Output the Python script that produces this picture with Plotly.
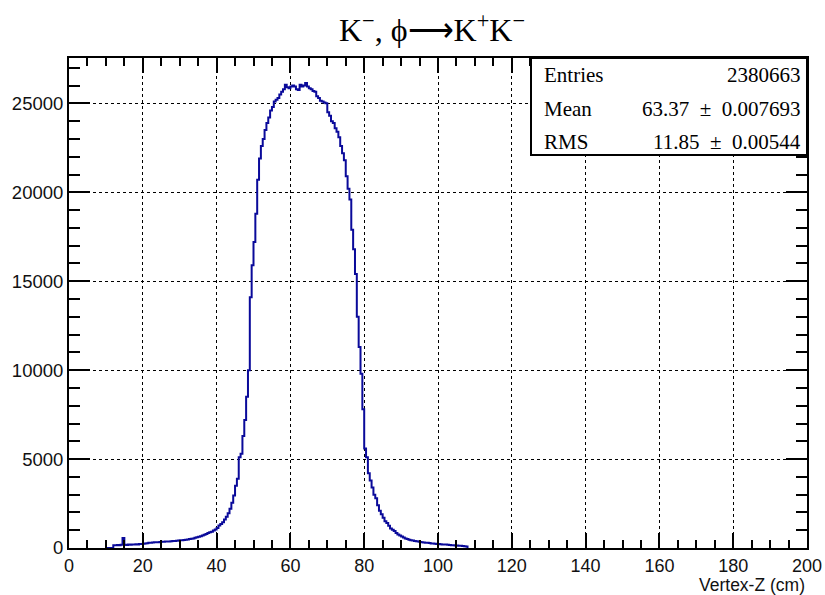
import plotly.graph_objects as go

# ---- data (histogram, 0.5 cm bins starting at 10 cm) ----
bin_start = 10.0
bin_width = 0.5
counts = [
    0, 0, 0, 0,
    150, 160, 170, 160, 180, 560, 180, 170, 190, 180, 200, 190, 210, 200, 220, 230,
    240, 250, 270, 290, 300, 310, 320, 320, 330, 340, 350, 350, 360, 370, 370, 380, 390, 400, 410, 420,
    430, 440, 450, 460, 480, 500, 520, 540, 570, 600, 630, 660, 700, 740, 790, 840, 880, 920, 980, 1040,
    1120, 1260, 1350, 1450, 1600, 1750, 1950, 2200, 2550, 2950, 3500, 3900, 5100, 5300, 6300, 7200, 8500, 10000, 14100, 15900,
    17200, 18800, 20700, 21900, 22600, 23000, 23500, 23900, 24200, 24600, 24800, 25100, 25200, 25300, 25500, 25650, 25800, 26050, 25900, 25850,
    25950, 26000, 25950, 25800, 25750, 26050, 25950, 26000, 26150, 25950, 25850, 25800, 25700, 25650, 25400, 25300, 25150, 25100, 25050, 25000,
    24500, 24300, 24000, 23900, 23600, 23400, 23100, 22600, 22200, 21800, 20900, 20200, 19600, 17900, 16800, 15400, 13000, 11300, 9800, 7800,
    5600, 5100, 4200, 3800, 3400, 3000, 2800, 2400, 2100, 1900, 1700, 1500, 1400, 1250, 1100, 1020, 950, 850, 760, 700,
    640, 590, 540, 500, 470, 440, 420, 400, 380, 360, 340, 330, 310, 300, 290, 280, 260, 250, 240, 230,
    220, 210, 200, 200, 190, 180, 170, 160, 150, 140, 140, 130, 120, 110, 100, 90,
]
x_tickvals = [0, 20, 40, 60, 80, 100, 120, 140, 160, 180, 200]
y_tickvals = [0, 5000, 10000, 15000, 20000, 25000]
y_ticktext = ["0", "5000", "10000", "15000", "20000", "25000"]
stats_labels = ["Entries", "Mean", "RMS"]
stats_values = ["2380663", "63.37\u2002±\u20020.007693", "11.85\u2002±\u20020.00544"]
title_text = "K<sup>−</sup>, ϕ⟶K<sup>+</sup>K<sup>−</sup>"
x_title = "Vertex-Z (cm)"

# ---- build step line ----
edges = [bin_start + i * bin_width for i in range(len(counts))]
end = bin_start + len(counts) * bin_width
xs = [bin_start] + edges + [end, end]
ys = [0] + counts + [counts[-1], 0]

line_color = "#0a0a9a"
fig = go.Figure()
fig.add_trace(go.Scatter(x=xs, y=ys, mode="lines", line=dict(color=line_color, width=2, shape="hv"),
                         hoverinfo="skip", showlegend=False))

y_font = dict(family="Liberation Sans, Arial, sans-serif", size=18.5, color="#111")
x_font = dict(family="Liberation Sans, Arial, sans-serif", size=18, color="#111")
axis_common = dict(
    showline=True, linewidth=2, linecolor="black", mirror="allticks",
    ticks="inside", tickcolor="black", tickwidth=2,
    showgrid=True, gridcolor="black", gridwidth=1, griddash="dot",
    zeroline=False, automargin=False,
)

fig.update_xaxes(**axis_common, tickfont=x_font, range=[0, 200], tickvals=x_tickvals, ticklen=15,
                 minor=dict(dtick=5, ticklen=8, tickwidth=2, tickcolor="black", ticks="inside", showgrid=False))
fig.update_yaxes(**axis_common, tickfont=y_font, range=[0, 27550], tickvals=y_tickvals, ticktext=y_ticktext, ticklen=21,
                 minor=dict(dtick=1000, ticklen=11, tickwidth=2, tickcolor="black", ticks="inside", showgrid=False))

L, R, T, B = 69, 18, 58, 47
W, H = 825, 595
pw, ph = W - L - R, H - T - B

def px_x(p):
    return (p - L) / pw

def px_y(p):
    return 1 - (p - T) / ph

annotations = []
annotations.append(dict(x=px_x(432), y=px_y(28), xref="paper", yref="paper", text=title_text,
                        showarrow=False, xanchor="center", yanchor="middle",
                        font=dict(family="Liberation Serif, Times New Roman, serif", size=32, color="black")))
annotations.append(dict(x=1.0, y=px_y(585), xref="paper", yref="paper", text=x_title,
                        showarrow=False, xanchor="right", yanchor="middle",
                        font=dict(family="Liberation Sans, Arial, sans-serif", size=17.5, color="#111")))

row_y = [75, 109, 142]
for lab, val, ry in zip(stats_labels, stats_values, row_y):
    annotations.append(dict(x=px_x(542), y=px_y(ry), xref="paper", yref="paper", text=lab,
                            showarrow=False, xanchor="left", yanchor="middle",
                            font=dict(family="Liberation Serif, Times New Roman, serif", size=21, color="black")))
    annotations.append(dict(x=px_x(803), y=px_y(ry), xref="paper", yref="paper", text=val,
                            showarrow=False, xanchor="right", yanchor="middle",
                            font=dict(family="Liberation Serif, Times New Roman, serif", size=21, color="black")))

fig.add_shape(type="rect", xref="paper", yref="paper", x0=px_x(531), x1=1.0, y0=px_y(155), y1=1.0,
              line=dict(color="black", width=2), fillcolor="white", layer="above")

fig.update_layout(
    width=W, height=H,
    margin=dict(l=L, r=R, t=T, b=B, pad=0, autoexpand=False),
    paper_bgcolor="white", plot_bgcolor="white",
    annotations=annotations,
    showlegend=False,
)

fig.write_html("out.html", config={"displayModeBar": False})
